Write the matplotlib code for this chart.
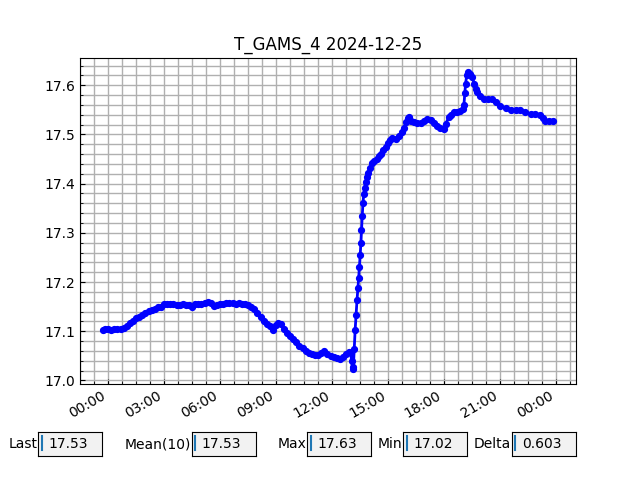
import datetime as dt
import matplotlib
matplotlib.use("Agg")
import matplotlib.pyplot as plt
import matplotlib.dates as mdates
from matplotlib.ticker import AutoMinorLocator

title = "T_GAMS_4 2024-12-25"
base_date = dt.datetime(2024, 12, 25)

hours = [
    -0.30, -0.15, 0.00, 0.17, 0.33, 0.50, 0.67, 0.83, 1.00, 1.17, 1.33, 1.50, 1.67, 1.83,
    2.00, 2.17, 2.33, 2.50, 2.67, 2.83, 3.00, 3.17, 3.33, 3.50, 3.67, 3.83, 4.00, 4.17,
    4.33, 4.50, 4.67, 4.83, 5.00, 5.17, 5.33, 5.50, 5.67, 5.83, 6.00, 6.17, 6.33, 6.50,
    6.67, 6.83, 7.00, 7.17, 7.33, 7.50, 7.67, 7.83, 8.00, 8.17, 8.33, 8.50, 8.67, 8.83,
    9.00, 9.10, 9.25, 9.42, 9.58, 9.75, 9.92, 10.08, 10.25, 10.42, 10.58, 10.75, 10.92,
    11.08, 11.25, 11.42, 11.58, 11.75, 11.92, 12.08, 12.25, 12.42, 12.58, 12.75, 12.92,
    13.00, 13.05, 13.10, 13.14, 13.19, 13.24, 13.29, 13.34, 13.39, 13.43, 13.47, 13.51,
    13.55, 13.58, 13.62, 13.66, 13.70, 13.75, 13.80, 13.87, 13.95, 14.05, 14.15, 14.25,
    14.40, 14.50, 14.61, 14.75, 14.87, 15.00, 15.12, 15.23, 15.41, 15.58, 15.77, 15.87,
    15.95, 16.05, 16.12, 16.25, 16.39, 16.55, 16.75, 16.92, 17.11, 17.28, 17.46, 17.62,
    17.80, 18.00, 18.10, 18.26, 18.40, 18.53, 18.70, 18.88, 19.00, 19.07, 19.12, 19.16,
    19.22, 19.28, 19.40, 19.52, 19.62, 19.70, 19.79, 19.95, 20.14, 20.35, 20.59, 20.80,
    21.03, 21.30, 21.57, 21.85, 22.10, 22.35, 22.64, 22.90, 23.17, 23.30, 23.44, 23.65,
    23.87,
]

values = [
    17.103, 17.104, 17.104, 17.103, 17.104, 17.105, 17.105, 17.107, 17.111, 17.116, 17.121, 17.126, 17.130, 17.134,
    17.138, 17.142, 17.143, 17.146, 17.149, 17.150, 17.155, 17.156, 17.155, 17.155, 17.154, 17.154, 17.155, 17.153,
    17.153, 17.150, 17.155, 17.156, 17.156, 17.158, 17.160, 17.157, 17.152, 17.153, 17.155, 17.156, 17.157, 17.158,
    17.157, 17.156, 17.157, 17.156, 17.155, 17.153, 17.150, 17.145, 17.138, 17.130, 17.120, 17.114, 17.110, 17.103,
    17.112, 17.117, 17.114, 17.105, 17.096, 17.090, 17.085, 17.079, 17.071, 17.066, 17.060, 17.055, 17.053,
    17.051, 17.052, 17.056, 17.059, 17.053, 17.050, 17.048, 17.046, 17.044, 17.048, 17.053, 17.058,
    17.055, 17.040, 17.028, 17.023, 17.063, 17.103, 17.133, 17.163, 17.187, 17.209, 17.231, 17.255,
    17.280, 17.305, 17.335, 17.360, 17.378, 17.392, 17.403, 17.413, 17.422, 17.432, 17.442, 17.447,
    17.450, 17.456, 17.461, 17.468, 17.474, 17.482, 17.489, 17.493, 17.491, 17.497, 17.505, 17.513,
    17.525, 17.533, 17.535, 17.528, 17.525, 17.523, 17.523, 17.528, 17.532, 17.530, 17.523, 17.518,
    17.514, 17.511, 17.522, 17.535, 17.540, 17.545, 17.546, 17.548, 17.552, 17.560, 17.585, 17.603,
    17.620, 17.626, 17.622, 17.617, 17.603, 17.592, 17.586, 17.578, 17.573, 17.572, 17.573, 17.566,
    17.557, 17.553, 17.550, 17.550, 17.550, 17.546, 17.542, 17.541, 17.540, 17.533, 17.527, 17.527,
    17.527,
]

stat_labels = ["Last", "Mean(10)", "Max", "Min", "Delta"]
stat_values = ["17.53", "17.53", "17.63", "17.02", "0.603"]
stat_left = [0.06, 0.30, 0.48, 0.63, 0.80]

times = [base_date + dt.timedelta(hours=h) for h in hours]

fig, ax = plt.subplots(figsize=(6.4, 4.8), dpi=100)
ax.plot(times, values, color="blue", marker="o", markersize=4.2, linewidth=2.0)
ax.set_title(title)
ax.xaxis.set_major_locator(mdates.HourLocator(byhour=range(0, 24, 3)))
ax.xaxis.set_major_formatter(mdates.DateFormatter("%H:%M"))
ax.xaxis.set_minor_locator(AutoMinorLocator())
ax.yaxis.set_minor_locator(AutoMinorLocator())
ax.grid(which="both", color="#b0b0b0", linewidth=1.0)
ax.tick_params(which="both", direction="in")
fig.autofmt_xdate()

for lab, val, left in zip(stat_labels, stat_values, stat_left):
    bax = fig.add_axes([left, 0.05, 0.1, 0.05])
    bax.set_facecolor("0.95")
    bax.set_xticks([])
    bax.set_yticks([])
    bax.set_xlim(0, 1)
    bax.set_ylim(0, 1)
    bax.text(-0.01, 0.5, lab, transform=bax.transAxes, ha="right", va="center", fontsize=10)
    bax.text(0.155, 0.5, val, transform=bax.transAxes, ha="left", va="center", fontsize=10)
    bax.plot([0.053, 0.053], [0.24, 0.82], color="#1f77b4", linewidth=1.5)

fig.savefig("out.png", dpi=100)
